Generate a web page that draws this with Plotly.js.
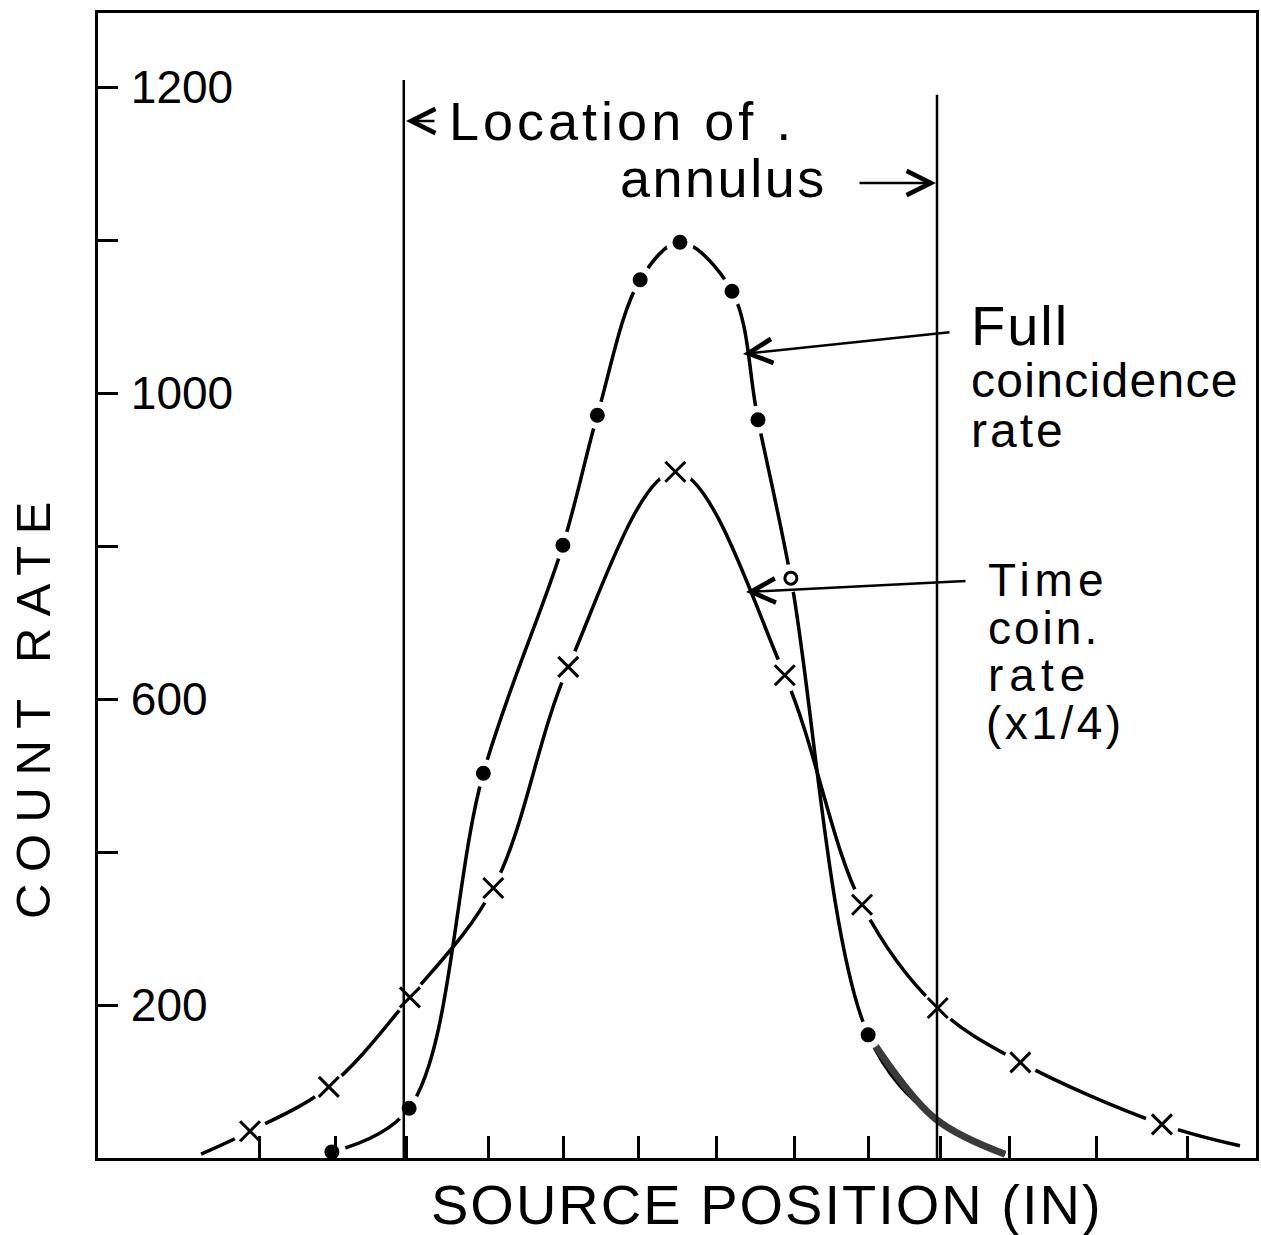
<!DOCTYPE html>
<html>
<head>
<meta charset="utf-8">
<script src="https://cdn.plot.ly/plotly-3.0.1.min.js"></script>
<style>
  html, body { margin: 0; padding: 0; background: #fff; }
  #chart { width: 1261px; height: 1235px; }
</style>
</head>
<body>
<div id="chart"></div>
<script>
// ---------------- data ----------------
// x: source position, in tick units; y: count rate on the drawn scale
const timeX = [0.21, 0.85, 1.88, 2.94, 4.03, 5.01, 6.41, 7.84, 8.85, 9.84, 10.92, 12.77, 13.79];
const timeY = [5, 35, 93, 210, 353, 642, 897, 631, 331, 196, 125, 44, 16];

const fullX = [1.92, 2.93, 3.90, 4.94, 5.39, 5.95, 6.47, 7.15, 7.49, 7.92, 8.93];
const fullY = [8, 65, 503, 801, 971, 1148, 1197, 1133, 965, 758, 161];
const fullTailX = [9.80, 10.72];
const fullTailY = [52, 5];

const xTickVals = [0, 0.97, 1.97, 2.89, 3.97, 4.95, 5.93, 6.95, 7.97, 8.94, 9.87, 10.78, 11.92, 13.1];
const yTickVals = [200, 400, 600, 800, 1000, 1200, 1400];
const yTickText = ['200', '', '600', '', '1000', '', '1200'];

const annulusX = [2.86, 9.83];
const annulusTop = [1409, 1390];

// ---------------- helpers for layout placement ----------------
const PX = px => (px - 185) / 76.5;
const PY = py => (1158 - py) * 200 / 153;
const FONT = 'Liberation Sans, Arial, sans-serif';
const sp = (t, s) => '<span style="letter-spacing:' + s + 'px">' + t + '</span>';

const fullLineX = fullX.concat(fullTailX);
const fullLineY = fullY.concat(fullTailY);
const timeMarkX = timeX.slice(1, -1);
const timeMarkY = timeY.slice(1, -1);

const traces = [
  { x: timeX, y: timeY, mode: 'lines', line: { color: '#000', width: 3.5, shape: 'spline', smoothing: 1 }, hoverinfo: 'skip', showlegend: false },
  { x: timeMarkX, y: timeMarkY, mode: 'markers', marker: { symbol: 'circle', size: 34, color: '#fff' }, cliponaxis: false, hoverinfo: 'skip', showlegend: false },
  { x: fullLineX, y: fullLineY, mode: 'lines', line: { color: '#000', width: 3.5, shape: 'spline', smoothing: 1 }, hoverinfo: 'skip', showlegend: false },
  { x: fullLineX.slice(-3), y: fullLineY.slice(-3), mode: 'lines', line: { color: '#3a3a3a', width: 7, shape: 'spline' }, hoverinfo: 'skip', showlegend: false },
  { x: fullX, y: fullY, mode: 'markers', marker: { symbol: 'circle', size: 28, color: '#fff' }, cliponaxis: false, hoverinfo: 'skip', showlegend: false },
  { x: timeMarkX, y: timeMarkY, mode: 'markers', name: 'Time coin. rate (x1/4)',
    marker: { symbol: 'x-thin', size: 20, color: '#000', line: { color: '#000', width: 3 } }, cliponaxis: false, showlegend: false },
  { x: fullX, y: fullY, mode: 'markers', name: 'Full coincidence rate',
    marker: { symbol: fullX.map((v, i) => i === 9 ? 'circle-open' : 'circle'), size: 12, color: '#000', line: { color: '#000', width: 3 } }, cliponaxis: false, showlegend: false }
];

const shapes = annulusX.map((xv, i) => ({
  type: 'line', xref: 'x', yref: 'y', x0: xv, x1: xv, y0: 0, y1: annulusTop[i],
  line: { color: '#000', width: 2.5 }, layer: 'above'
}));

function label(text, leftPx, basePx, size, spacing) {
  return {
    xref: 'x', yref: 'y', x: PX(leftPx), y: PY(basePx - 0.35 * size),
    xanchor: 'left', yanchor: 'middle', showarrow: false, borderpad: 0,
    text: sp(text, spacing), font: { family: FONT, size: size, color: '#000' }
  };
}
function arrow(tailPx, tailPy, headPx, headPy) {
  return {
    xref: 'x', yref: 'y', axref: 'x', ayref: 'y',
    x: PX(headPx), y: PY(headPy), ax: PX(tailPx), ay: PY(tailPy),
    text: '', showarrow: true, arrowhead: 5, arrowsize: 1.9, arrowwidth: 2.5, arrowcolor: '#000'
  };
}

const annotations = [
  label('Location of .', 448, 140, 54, 4),
  label('annulus', 619, 197, 54, 2.5),
  label('Full', 970, 345, 56, 2),
  label('coincidence', 970, 397, 48, 1.3),
  label('rate', 970, 447, 48, 3),
  label('Time', 987, 596, 46, 5),
  label('coin.', 987, 644, 46, 3),
  label('rate', 987, 691, 46, 6),
  label('(x1/4)', 985, 739, 46, 3.5),
  arrow(436, 121, 406, 121),
  arrow(858, 183, 936, 183),
  arrow(951, 332, 743, 354),
  arrow(967, 581, 746, 592),
  { xref: 'paper', yref: 'paper', x: (33 - 98) / 1158, y: (1158 - 705) / 1145, xanchor: 'center', yanchor: 'middle',
    textangle: -90, showarrow: false, borderpad: 0, text: sp('COUNT RATE', 11.5), font: { family: FONT, size: 49, color: '#000' } },
  { xref: 'paper', yref: 'paper', x: (430 - 98) / 1158, y: (1158 - 1205) / 1145, xanchor: 'left', yanchor: 'middle',
    showarrow: false, borderpad: 0, text: sp('SOURCE POSITION (IN)', 2), font: { family: FONT, size: 56, color: '#000' } }
];

const layout = {
  width: 1261, height: 1235,
  margin: { l: 98, r: 5, t: 13, b: 77, pad: 0 },
  paper_bgcolor: '#fff', plot_bgcolor: '#fff',
  showlegend: false,
  xaxis: {
    range: [PX(98), PX(1256)], showgrid: false, zeroline: false,
    showline: true, mirror: true, linecolor: '#000', linewidth: 3,
    ticks: 'inside', ticklen: 22, tickwidth: 3, tickcolor: '#000',
    tickmode: 'array', tickvals: xTickVals, showticklabels: false
  },
  yaxis: {
    range: [0, PY(13)], showgrid: false, zeroline: false,
    showline: true, mirror: true, linecolor: '#000', linewidth: 3,
    ticks: 'inside', ticklen: 20, tickwidth: 3, tickcolor: '#000',
    tickmode: 'array', tickvals: yTickVals, ticktext: yTickText,
    ticklabelposition: 'inside', ticklabelstandoff: 19,
    tickfont: { family: FONT, size: 46, color: '#000' }
  },
  shapes: shapes,
  annotations: annotations
};

Plotly.newPlot('chart', traces, layout, { staticPlot: true, displayModeBar: false });
</script>
</body>
</html>
